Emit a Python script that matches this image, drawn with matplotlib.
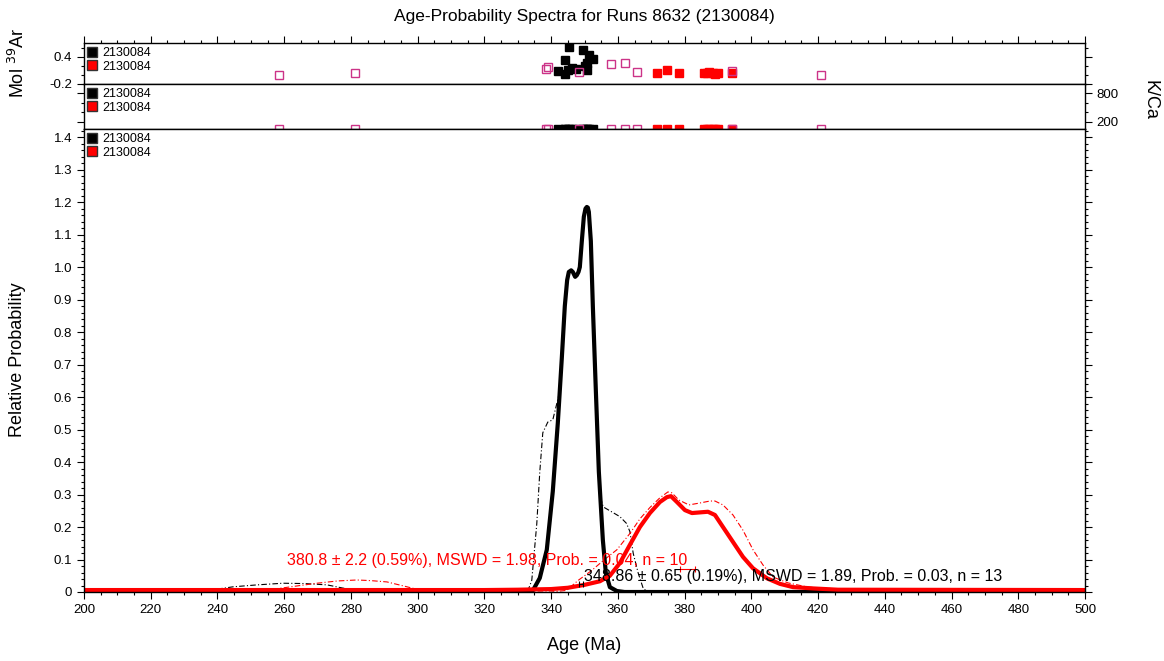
import matplotlib
matplotlib.use('Agg')
import matplotlib.pyplot as plt
from matplotlib.lines import Line2D
from matplotlib.ticker import MultipleLocator, FixedLocator

plt.rcParams['font.family'] = ['Liberation Sans', 'DejaVu Sans']
plt.rcParams['axes.unicode_minus'] = False

# ---- data ----
# step ages (Ma) and values for the two upper panels
black_age = [345.4, 349.6, 351.4, 352.6, 344.2, 350.6, 350.8, 342.1, 344.2, 345.1, 346.4, 347.4, 350.2]
black_mol = [0.63, 0.556, 0.444, 0.356, 0.333, 0.26, 0.11, 0.096, 0.022, 0.11, 0.149, 0.133, 0.2]
black_kca = [48, 48, 50, 48, 46, 49, 48, 44, 47, 49, 48, 46, 48]

red_age = [371.6, 374.8, 378.2, 385.8, 386.6, 387.4, 388.4, 389.1, 390.1, 394.1]
red_mol = [0.037, 0.11, 0.051, 0.037, 0.05, 0.073, 0.04, 0.015, 0.037, 0.051]
red_kca = [46, 48, 46, 46, 48, 48, 46, 44, 46, 48]

excl_age = [258.5, 281.3, 338.4, 339.0, 348.5, 357.8, 362.2, 365.6, 394.3, 420.9]
excl_mol = [0.0, 0.037, 0.133, 0.185, 0.074, 0.244, 0.274, 0.067, 0.096, 0.007]
excl_kca = [48, 44, 48, 50, 44, 46, 46, 46, 48, 40]

# probability curves (age, relative probability)
black_curve_age = [200, 330, 333, 334.6, 336.6, 338.7, 340.5, 342.0, 343.2, 344.1, 344.8, 345.3, 346.0,
                   346.5, 347.2, 347.7, 348.2, 348.6, 349.2, 349.8, 350.3, 350.7, 351.0, 351.3, 351.9,
                   352.5, 353.4, 354.3, 355.5, 356.4, 357.6, 359.7, 362, 500]
black_curve_val = [0, 0, 0.002, 0.006, 0.043, 0.13, 0.31, 0.52, 0.72, 0.88, 0.96, 0.985, 0.99,
                   0.985, 0.97, 0.975, 0.985, 1.0, 1.08, 1.155, 1.18, 1.185, 1.183, 1.17, 1.08,
                   0.88, 0.62, 0.37, 0.16, 0.058, 0.015, 0.003, 0, 0]

red_curve_age = [200, 320, 330, 340, 345, 350, 354.6, 357.6, 360.6, 363.6, 366.6, 369.6, 372.6,
                 374.7, 375.9, 377.7, 380.1, 382.2, 384.6, 387.0, 389.1, 391.5, 394.5, 397.5,
                 400.5, 404.7, 408.6, 412.5, 418.5, 426, 500]
red_curve_val = [0.006, 0.006, 0.007, 0.009, 0.013, 0.022, 0.033, 0.05, 0.089, 0.145, 0.2, 0.243,
                 0.277, 0.292, 0.295, 0.277, 0.252, 0.243, 0.245, 0.247, 0.237, 0.2, 0.154, 0.108,
                 0.073, 0.042, 0.025, 0.015, 0.011, 0.007, 0.006]

black_all_age = [200, 234, 238, 244.7, 252, 259.6, 266, 272.8, 277.6, 282, 290, 300, 330, 333, 334.2,
                 335.7, 336.6, 337.5, 339.0, 340.5, 341.7, 342.4, 343.2, 344.1, 344.8, 345.3, 346.0,
                 346.5, 347.2, 347.7, 348.2, 348.6, 349.2, 349.8, 350.3, 350.7, 351.0, 351.3, 351.9,
                 352.5, 353.4, 354.3, 354.8, 355.6, 358.1, 360.6, 362.6, 363.6, 364.6, 366.1, 367.6,
                 369, 500]
black_all_val = [0, 0, 0.006, 0.016, 0.022, 0.027, 0.026, 0.022, 0.012, 0.006, 0.002, 0, 0, 0.003,
                 0.036, 0.21, 0.37, 0.49, 0.523, 0.53, 0.58, 0.61, 0.72, 0.88, 0.96, 0.985, 0.99,
                 0.985, 0.97, 0.975, 0.985, 1.0, 1.08, 1.155, 1.18, 1.185, 1.183, 1.17, 1.08,
                 0.88, 0.62, 0.37, 0.29, 0.262, 0.247, 0.232, 0.211, 0.186, 0.119, 0.058, 0.011,
                 0, 0]

red_all_age = [200, 250, 254.8, 262, 269.8, 276, 281.8, 286, 290.8, 296, 300.7, 305, 340, 344.7, 348,
               352, 356, 359.7, 363.6, 366.6, 369.6, 372.6, 375, 376.2, 378.3, 381.3, 384.6, 387.6,
               389.1, 391.5, 394.5, 397.5, 400.5, 403.5, 406.5, 411, 417, 425, 440, 460, 480, 487, 500]
red_all_val = [0, 0, 0.006, 0.016, 0.027, 0.034, 0.037, 0.035, 0.031, 0.018, 0.006, 0.001, 0, 0.005,
               0.035, 0.065, 0.1, 0.13, 0.18, 0.225, 0.26, 0.29, 0.308, 0.305, 0.283, 0.268, 0.274,
               0.28, 0.28, 0.268, 0.237, 0.19, 0.13, 0.083, 0.046, 0.028, 0.015, 0.01, 0.009, 0.008,
               0.007, 0.003, 0]

# weighted means
black_mean, black_err, black_bar_y = 348.86, 0.65, 0.024
red_mean, red_err, red_bar_y = 380.8, 2.2, 0.07
black_text = '348.86 ± 0.65 (0.19%), MSWD = 1.89, Prob. = 0.03, n = 13'
red_text = '380.8 ± 2.2 (0.59%), MSWD = 1.98, Prob. = 0.04, n = 10'
sample = '2130084'

MAGENTA = '#cc3388'

fig = plt.figure(figsize=(11.64, 6.61), dpi=100)
W, H = 1164, 661
left, right = 84 / W, 1085 / W

ax_mol = fig.add_axes([left, 1 - 84 / H, right - left, 41 / H])
ax_kca = fig.add_axes([left, 1 - 129 / H, right - left, 45 / H])
ax = fig.add_axes([left, 1 - 592 / H, right - left, 463 / H])


def add_legend(a):
    handles = [
        Line2D([0], [0], marker='s', color='none', markerfacecolor='black',
               markeredgecolor='#333333', markersize=7, label=sample),
        Line2D([0], [0], marker='s', color='none', markerfacecolor='red',
               markeredgecolor='#333333', markersize=7, label=sample),
    ]
    a.legend(handles=handles, loc='upper left', frameon=False, fontsize=9,
             handlelength=0.6, handletextpad=0.5, labelspacing=0.1,
             borderpad=0.1, borderaxespad=0.25)


def style_ticks(a):
    a.xaxis.set_major_locator(MultipleLocator(20))
    a.xaxis.set_minor_locator(MultipleLocator(5))
    a.tick_params(which='both', direction='out', labelsize=9.5, width=0.8)
    a.tick_params(which='major', length=5)
    a.tick_params(which='minor', length=2.5)
    for s in a.spines.values():
        s.set_linewidth(1.0)
    a.set_xlim(200, 500)


# ---- Mol 39Ar panel ----
ax_mol.plot(black_age, black_mol, 's', color='black', markersize=6, linestyle='none')
ax_mol.plot(red_age, red_mol, 's', color='red', markersize=6, linestyle='none')
ax_mol.plot(excl_age, excl_mol, 's', markerfacecolor='none', markeredgecolor=MAGENTA,
            markersize=5.5, markeredgewidth=1.0, linestyle='none')
ax_mol.set_ylim(-0.2, 0.71)
style_ticks(ax_mol)
ax_mol.yaxis.set_major_locator(FixedLocator([-0.2, 0.4]))
ax_mol.yaxis.set_minor_locator(MultipleLocator(0.2))
ax_mol.tick_params(axis='x', which='both', top=True, bottom=True, labelbottom=False)
ax_mol.tick_params(axis='y', which='both', left=True, right=True)
add_legend(ax_mol)

# ---- K/Ca panel ----
ax_kca.plot(black_age, black_kca, 's', color='black', markersize=6, linestyle='none')
ax_kca.plot(red_age, red_kca, 's', color='red', markersize=6, linestyle='none')
ax_kca.plot(excl_age, excl_kca, 's', markerfacecolor='none', markeredgecolor=MAGENTA,
            markersize=5.5, markeredgewidth=1.0, linestyle='none')
ax_kca.set_ylim(40, 1000)
style_ticks(ax_kca)
ax_kca.yaxis.set_major_locator(FixedLocator([200, 800]))
ax_kca.yaxis.set_minor_locator(MultipleLocator(200))
ax_kca.tick_params(axis='x', which='both', top=False, bottom=True, labelbottom=False)
ax_kca.tick_params(axis='y', which='both', left=True, right=True, labelleft=False, labelright=True)
add_legend(ax_kca)

# ---- probability spectra ----
ax.plot(black_all_age, black_all_val, color='black', linewidth=0.8, linestyle=(0, (5, 2, 1, 2)))
ax.plot(red_all_age, red_all_val, color='red', linewidth=0.8, linestyle=(0, (5, 2, 1, 2)))
ax.plot(black_curve_age, black_curve_val, color='black', linewidth=3.0, solid_joinstyle='round')
ax.plot(red_curve_age, red_curve_val, color='red', linewidth=3.0, solid_joinstyle='round')

ax.errorbar([black_mean], [black_bar_y], xerr=[black_err], color='black', linewidth=0.8,
            capsize=2, capthick=0.8)
ax.errorbar([red_mean], [red_bar_y], xerr=[red_err], color='red', linewidth=0.8,
            capsize=2, capthick=0.8)

ax.text(260.8, 0.098, red_text, color='red', fontsize=11.5, va='center', ha='left')
ax.text(349.8, 0.047, black_text, color='black', fontsize=11.5, va='center', ha='left')

ax.set_ylim(0, 1.425)
style_ticks(ax)
ax.yaxis.set_minor_locator(MultipleLocator(0.02))
ax.set_yticks([round(0.1 * i, 1) for i in range(15)])
ax.set_yticklabels(['0'] + [f'{0.1 * i:.1f}' for i in range(1, 15)])
ax.tick_params(axis='y', which='both', left=True, right=True)
ax.tick_params(axis='x', which='both', top=False, bottom=True)
add_legend(ax)

# labels
fig.text(584 / W, 1 - 17 / H, 'Age-Probability Spectra for Runs 8632 (2130084)',
         ha='center', va='center', fontsize=12.5)
fig.text(584 / W, 1 - 645 / H, 'Age (Ma)', ha='center', va='center', fontsize=13)
fig.text(18 / W, 1 - 360 / H, 'Relative Probability', ha='center', va='center',
         rotation=90, fontsize=13)
fig.text(18 / W, 1 - 63 / H, 'Mol $^{39}$Ar', ha='center', va='center', rotation=90, fontsize=13)
fig.text(1150 / W, 1 - 100 / H, 'K/Ca', ha='center', va='center', rotation=270, fontsize=13)

fig.savefig('out.png', dpi=100)
